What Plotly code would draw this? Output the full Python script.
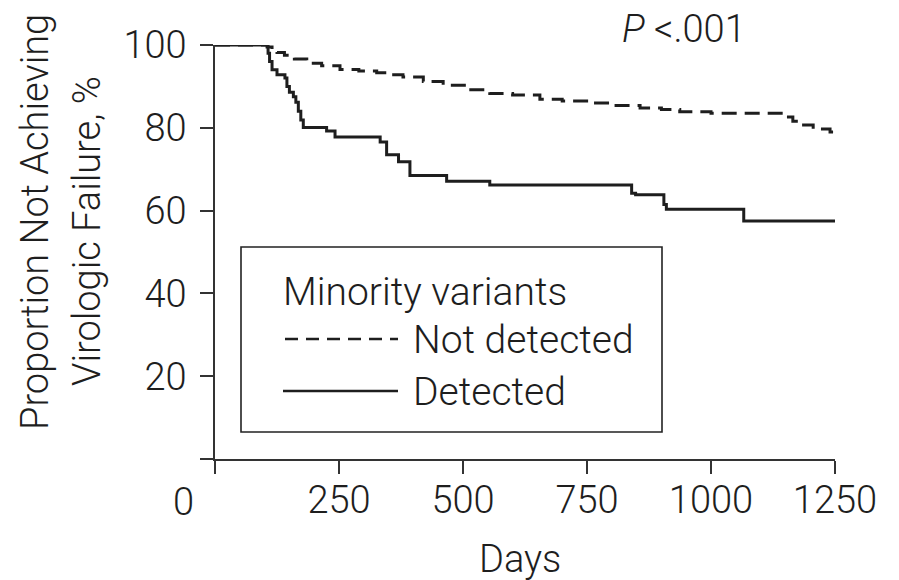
import plotly.graph_objects as go

# ---- data ----
nd_days = [0, 105, 115, 125, 140, 160, 185, 215, 252, 290, 326, 355, 379, 420, 460,
           510, 554, 600, 655, 700, 756, 800, 857, 900, 937, 1000, 1139, 1153, 1165,
           1179, 1206, 1240, 1248, 1250]
nd_vals = [100, 99.5, 98.8, 98.2, 97.5, 96.6, 95.6, 95.0, 94.1, 93.7, 93.3, 92.8, 92.3,
           91.2, 90.3, 89.2, 88.3, 87.9, 86.9, 86.5, 86.0, 85.4, 84.8, 84.4, 83.9, 83.5,
           83.5, 82.6, 81.6, 80.7, 79.7, 79.0, 77.8, 77.8]

d_days = [0, 107, 110, 115, 125, 141, 145, 150, 158, 163, 168, 173, 178, 225, 242, 333,
          346, 370, 393, 467, 554, 840, 848, 905, 910, 1066, 1250]
d_vals = [100, 98, 96, 94, 92.8, 92, 90, 88.6, 87.5, 86.2, 84, 81.9, 80.1, 79.2, 77.8,
          76.6, 73.5, 71.8, 68.5, 67.1, 66.2, 64.2, 63.8, 61.5, 60.3, 57.5, 57.5]

x_ticks = [0, 250, 500, 750, 1000, 1250]
x_ticktext = ["", "250", "500", "750", "1000", "1250"]
y_ticks = [0, 20, 40, 60, 80, 100]
y_ticktext = ["", "20", "40", "60", "80", "100"]

legend_title = "Minority variants"
series_names = ["Not detected", "Detected"]

# ---- layout geometry (pixels) ----
W, H = 899, 580
L, R, T, B = 215, 835, 45, 459
FONT = "Roboto, Liberation Sans, Arial, sans-serif"
FS = 38
FW = 300
INK = "#1e1e1e"


def px(x):
    return (x - L) / (R - L)


def py(y):
    return (B - y) / (B - T)


fig = go.Figure()
fig.add_trace(go.Scatter(x=nd_days, y=nd_vals, mode="lines", line_shape="hv",
                         name=series_names[0], cliponaxis=False,
                         line=dict(color=INK, width=3, dash="15px,8px")))
fig.add_trace(go.Scatter(x=d_days, y=d_vals, mode="lines", line_shape="hv",
                         name=series_names[1], cliponaxis=False,
                         line=dict(color=INK, width=3)))

axis_common = dict(showline=True, linecolor="#333", linewidth=1.5, ticks="outside",
                   ticklen=13, tickwidth=1.5, tickcolor="#333", showgrid=False,
                   zeroline=False,
                   tickfont=dict(family=FONT, size=FS, color=INK, weight=FW))

fig.update_xaxes(range=[0, 1250], tickvals=x_ticks, ticktext=x_ticktext,
                 ticklabelstandoff=-6, **axis_common)
fig.update_yaxes(range=[0, 100], tickvals=y_ticks, ticktext=y_ticktext,
                 ticklabelstandoff=6, **axis_common)

shapes = [
    dict(type="rect", xref="paper", yref="paper", x0=px(241), x1=px(662),
         y0=py(432), y1=py(247), line=dict(color="#222", width=1.6)),
    dict(type="line", xref="paper", yref="paper", x0=px(285), x1=px(398),
         y0=py(339), y1=py(339), line=dict(color=INK, width=2.5, dash="13px,8px")),
    dict(type="line", xref="paper", yref="paper", x0=px(283), x1=px(398),
         y0=py(391), y1=py(391), line=dict(color=INK, width=2.5)),
]

def ann(text, x, y, xanchor="center", angle=0, size=FS):
    return dict(text=text, xref="paper", yref="paper", x=px(x), y=py(y),
                xanchor=xanchor, yanchor="middle", showarrow=False, textangle=angle,
                font=dict(family=FONT, size=size, color=INK, weight=FW))

annotations = [
    ann(legend_title, 281, 292, "left", size=39),
    ann(series_names[0], 411, 340, "left", size=39),
    ann(series_names[1], 411, 392, "left", size=39),
    ann("<i>P</i> &lt;.001", 684, 29),
    ann("0", 183, 502),
    ann("Days", 520, 559),
    ann("Proportion Not Achieving", 35, 222, angle=-90),
    ann("Virologic Failure, %", 87, 231, angle=-90),
]

fig.update_layout(width=W, height=H, showlegend=False,
                  margin=dict(l=L, r=W - R, t=T, b=H - B),
                  paper_bgcolor="white", plot_bgcolor="white",
                  shapes=shapes, annotations=annotations)

fig.write_html("out.html")
